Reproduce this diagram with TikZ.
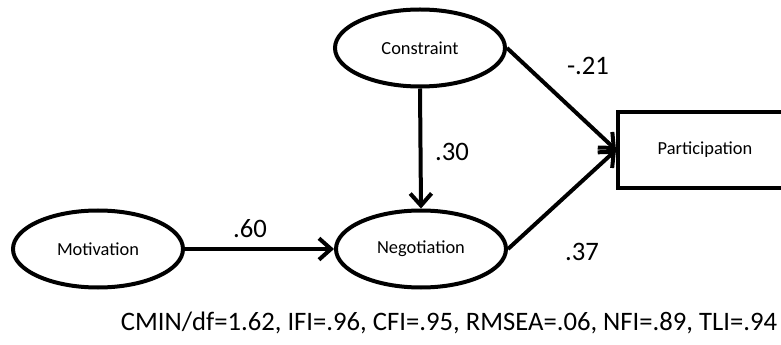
\documentclass[tikz,border=0pt]{standalone}
\usepackage{fontspec}
\setmainfont{Carlito}
\usetikzlibrary{shapes.geometric,arrows.meta}

\tikzset{
  latent/.style={draw=black, line width=3pt, ellipse, minimum width=127.5pt, minimum height=57.75pt, inner sep=0pt, font=\fontsize{13.8}{16}\selectfont},
  observed/.style={draw=black, line width=3pt, rectangle, minimum width=130.5pt, minimum height=57pt, inner sep=0pt, font=\fontsize{13.8}{16}\selectfont},
  path/.style={line width=3pt, -{Straight Barb[length=9pt,width=16pt,line width=3pt]}},
  coef/.style={inner sep=0.75pt, font=\fontsize{20}{24}\selectfont}
}

\begin{document}
\begin{tikzpicture}[x=0.75pt,y=0.75pt,yscale=-1,xscale=1]
\path[use as bounding box] (0,0) rectangle (781,345);
\clip (0,0) rectangle (781,345);

%Shape: Ellipse
\node [latent] (motivation) at (98,249) {Motivation};
%Shape: Ellipse
\node [latent] (negotiation) at (421,249) {Negotiation};
%Shape: Ellipse
\node [latent] (constraint) at (420,48) {Constraint};
%Shape: Rectangle
\node [observed] (participation) at (705,150) {Participation};

%Straight Lines
\draw [path] (motivation.east) -- (negotiation.west);
%Straight Lines
\draw [path] (constraint.south) -- (negotiation.north);
%Straight Lines
\draw [path] (constraint.east) -- (participation.west);
%Straight Lines
\draw [path] (negotiation.east) -- (participation.west);

% Text Node
\node [coef] (c60) at (250,229) {.60};
% Text Node
\node [coef] (c30) at (452,152) {.30};
% Text Node
\node [coef] (c21) at (588,66) {-.21};
% Text Node
\node [coef] (c37) at (582,252) {.37};
% Text Node
\node [coef] (fit) at (449,323) {CMIN/df=1.62, IFI=.96, CFI=.95, RMSEA=.06, NFI=.89, TLI=.94};

\end{tikzpicture}
\end{document}
